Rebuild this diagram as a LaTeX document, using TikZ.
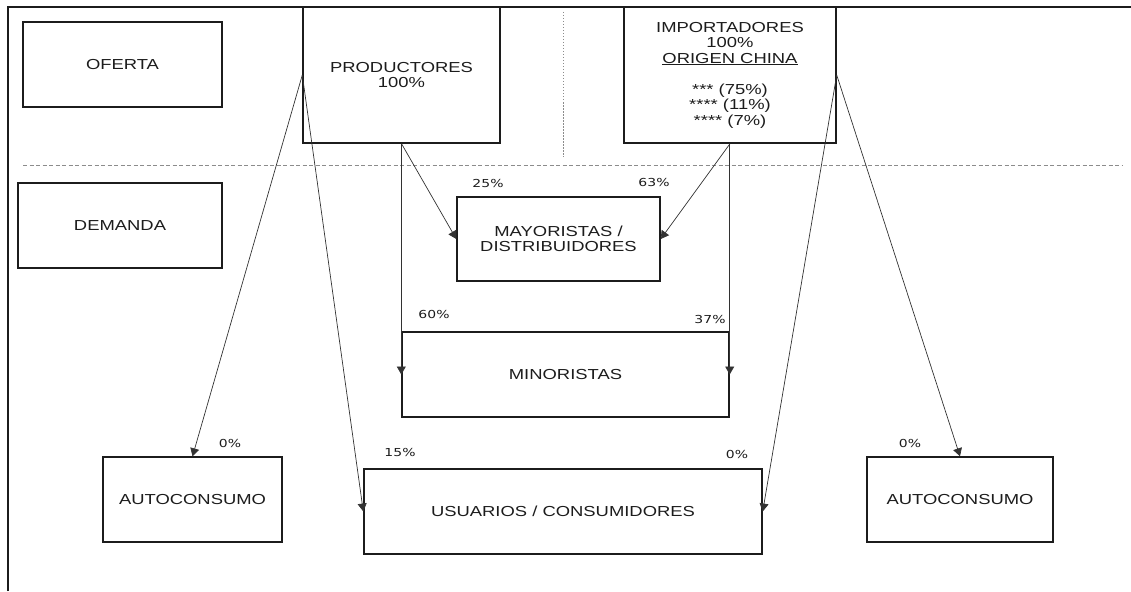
\documentclass[tikz,border=0pt]{standalone}
\usepackage{fontspec}
\usetikzlibrary{arrows.meta}
\newfontfamily\boxfont{Liberation Sans}[FakeStretch=1.27]
\newfontfamily\pctfont{DejaVu Sans}[FakeStretch=1.27]
\definecolor{ink_black}{RGB}{28, 28, 28}
\definecolor{flow_gray}{RGB}{50, 50, 50}
\definecolor{split_gray}{RGB}{140, 140, 140}

\begin{document}
\begin{tikzpicture}[
    x=1pt, y=-1pt,
    % Define the market actor box style
    actor/.style 2 args={
        rectangle,
        draw=ink_black,
        line width=1.4pt,
        minimum width=#1,
        minimum height=#2,
        inner sep=0pt,
        align=center,
        text=ink_black,
        font=\boxfont\fontsize{14.5}{15.5}\selectfont
    },
    % Flow arrow style
    flow/.style={
        -{Triangle[length=8pt,width=9pt]},
        draw=flow_gray,
        line width=0.7pt
    },
    % Share label style
    share/.style={
        inner sep=0pt,
        text=ink_black,
        font=\pctfont\fontsize{11}{13}\selectfont
    }
]
\useasboundingbox (0,0) rectangle (1131,591);

% Frame and split lines
\draw[ink_black, line width=1.8pt] (8,591) -- (8,7) -- (1131,7);
\draw[split_gray, line width=0.8pt, dash pattern=on 4pt off 2.5pt] (23,165) -- (1122,165);
\draw[split_gray, line width=0.8pt, dash pattern=on 1.5pt off 1.5pt] (563,12) -- (563,157);

% Row titles
\node[actor={199pt}{85pt}] (oferta) at (122.5,64.5) {OFERTA};
\node[actor={204pt}{85pt}] (demanda) at (120,225.5) {DEMANDA};

% Supply side
\node[actor={197pt}{136pt}] (prod) at (401.5,75) {PRODUCTORES\\100\%};
\node[actor={212pt}{136pt}] (imp) at (730,75) {IMPORTADORES\\100\%\\\underline{ORIGEN CHINA}\\[15.5pt]*** (75\%)\\**** (11\%)\\**** (7\%)};

% Demand side
\node[actor={203pt}{84pt}] (mayo) at (558.5,239) {MAYORISTAS /\\DISTRIBUIDORES};
\node[actor={327pt}{85pt}] (mino) at (565.5,374.5) {MINORISTAS};
\node[actor={398pt}{85pt}] (user) at (563,511.5) {USUARIOS / CONSUMIDORES};
\node[actor={179pt}{85pt}] (autoL) at (192.5,499.5) {AUTOCONSUMO};
\node[actor={186pt}{85pt}] (autoR) at (960,499.5) {AUTOCONSUMO};

% Flows from producers
\draw[flow] (prod.west) -- (autoL.north);
\draw[flow] (prod.west) -- (user.west);
\draw[flow] (prod.south) -- (mayo.west);
\draw[flow] (mino.west |- prod.south) -- (mino.west);

% Flows from importers
\draw[flow] (imp.south) -- (mayo.east);
\draw[flow] (mino.east |- imp.south) -- (mino.east);
\draw[flow] (imp.east) -- (user.east);
\draw[flow] (imp.east) -- (autoR.north);

% Shares
\node[share] (p25) at (488,183) {25\%};
\node[share] (p63) at (654,182) {63\%};
\node[share] (p60) at (434,314) {60\%};
\node[share] (p37) at (710,319) {37\%};
\node[share] (p0a) at (230,443) {0\%};
\node[share] (p15) at (400,452) {15\%};
\node[share] (p0b) at (737,454) {0\%};
\node[share] (p0c) at (910,443) {0\%};

\end{tikzpicture}
\end{document}
